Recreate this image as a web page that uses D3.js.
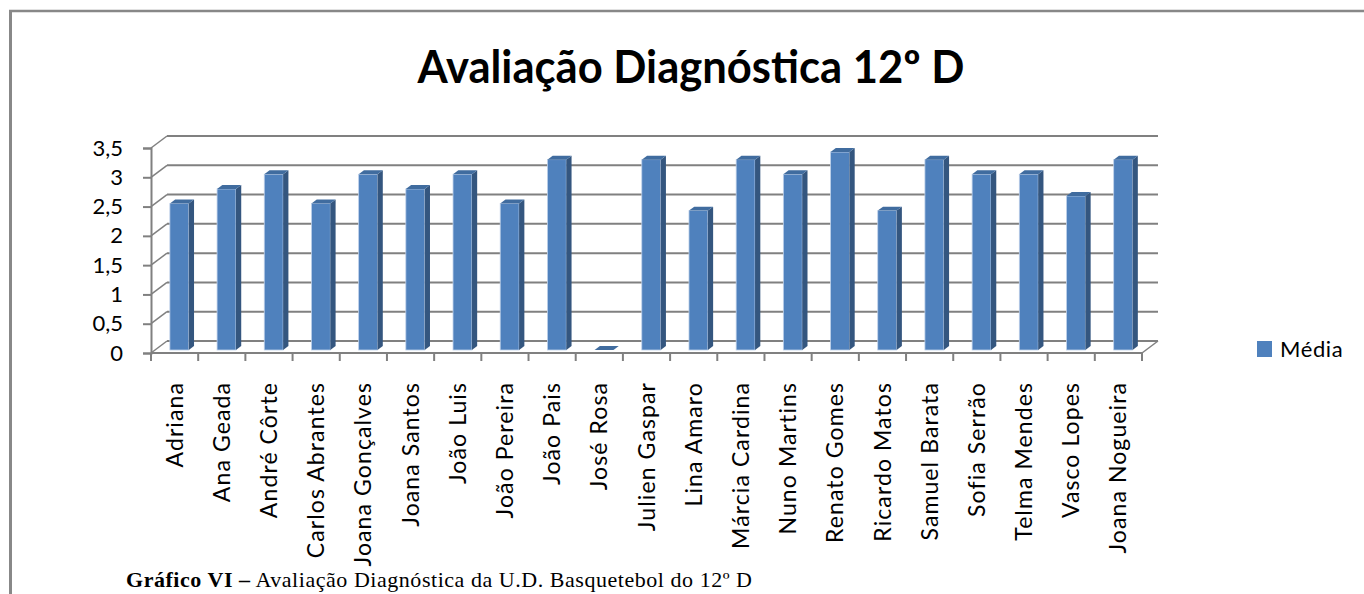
<!DOCTYPE html>
<html>
<head>
<meta charset="utf-8">
<script src="https://cdn.jsdelivr.net/npm/d3@7"></script>
<style>
  html, body { margin: 0; padding: 0; background: #fff; }
  svg { display: block; }
</style>
</head>
<body>
<div id="chart"></div>
<script>
const names = ['Adriana', 'Ana Geada', 'André Côrte', 'Carlos Abrantes', 'Joana Gonçalves',
  'Joana Santos', 'João Luis', 'João Pereira', 'João Pais', 'José Rosa', 'Julien Gaspar',
  'Lina Amaro', 'Márcia Cardina', 'Nuno Martins', 'Renato Gomes', 'Ricardo Matos',
  'Samuel Barata', 'Sofia Serrão', 'Telma Mendes', 'Vasco Lopes', 'Joana Nogueira'];
const media = [2.5, 2.75, 3, 2.5, 3, 2.75, 3, 2.5, 3.25, 0, 3.25,
  2.38, 3.25, 3, 3.38, 2.38, 3.25, 3, 3, 2.63, 3.25];
const yTicks = [0, 0.5, 1, 1.5, 2, 2.5, 3, 3.5];
const seriesName = 'Média';
const titleText = 'Avaliação Diagnóstica 12º D';
const captionBold = 'Gráfico VI –';
const captionRest = ' Avaliação Diagnóstica da U.D. Basquetebol do 12º D';

const chart = (() => {
  const W = 1364, H = 594;
  const depth = {dx: 16, dy: -12};
  const front = {left: 151, right: 1142, bottom: 353, top: 148};
  const font = 'Lato, "Open Sans", sans-serif';
  const col = {front: '#4F81BD', side: '#34567F', top: '#406C9F', grid: '#808080'};

  let svg;

  const appendSVG = () => {
    svg = d3.select('#chart').append('svg')
      .attr('width', W)
      .attr('height', H);
    svg.append('rect').attr('width', W).attr('height', H).attr('fill', '#fff');
    // page frame (top + left edges only)
    svg.append('line').attr('x1', 9).attr('x2', W).attr('y1', 11).attr('y2', 11)
      .attr('stroke', '#888').attr('stroke-width', 2.5);
    svg.append('line').attr('x1', 10.5).attr('x2', 10.5).attr('y1', 10).attr('y2', H)
      .attr('stroke', '#888').attr('stroke-width', 3);
  };

  const draw = () => {
    const x = d3.scaleBand().domain(names).range([front.left, front.right]).padding(0);
    const y = d3.scaleLinear().domain([0, 3.5]).range([front.bottom, front.top]);
    const bw = x.bandwidth();

    // back wall gridlines + diagonals
    const grid = svg.append('g').attr('class', 'grid');
    grid.selectAll('line.h')
      .data(yTicks)
      .enter()
      .append('line')
      .attr('x1', front.left + depth.dx)
      .attr('x2', front.right + depth.dx)
      .attr('y1', d => y(d) + depth.dy)
      .attr('y2', d => y(d) + depth.dy)
      .attr('stroke', col.grid).attr('stroke-width', 2);
    grid.selectAll('line.d')
      .data(yTicks)
      .enter()
      .append('line')
      .attr('x1', front.left)
      .attr('y1', d => y(d))
      .attr('x2', front.left + depth.dx)
      .attr('y2', d => y(d) + depth.dy)
      .attr('stroke', col.grid).attr('stroke-width', 1.5);

    // floor front edge + right diagonal
    svg.append('line')
      .attr('x1', front.left).attr('x2', front.right)
      .attr('y1', front.bottom).attr('y2', front.bottom)
      .attr('stroke', col.grid).attr('stroke-width', 2);
    svg.append('line')
      .attr('x1', front.right).attr('y1', front.bottom)
      .attr('x2', front.right + depth.dx).attr('y2', front.bottom + depth.dy)
      .attr('stroke', col.grid).attr('stroke-width', 1.5);

    // y axis
    const yAxis = svg.append('g')
      .attr('transform', `translate(${front.left},0)`)
      .call(d3.axisLeft(y).tickValues(yTicks).tickSize(8).tickPadding(20)
        .tickFormat(d => String(d).replace('.', ',')));
    yAxis.select('.domain').attr('stroke', col.grid).attr('stroke-width', 2);
    yAxis.selectAll('.tick line').attr('stroke', col.grid).attr('stroke-width', 2);
    yAxis.selectAll('.tick text')
      .attr('font-family', font).attr('font-size', 22).attr('fill', '#000');

    // x axis ticks at band edges
    svg.append('g').selectAll('line')
      .data(d3.range(names.length + 1))
      .enter()
      .append('line')
      .attr('x1', i => front.left + i * bw)
      .attr('x2', i => front.left + i * bw)
      .attr('y1', front.bottom)
      .attr('y2', front.bottom + 8)
      .attr('stroke', col.grid).attr('stroke-width', 2);

    // x labels
    const xAxis = svg.append('g')
      .attr('transform', `translate(0,${front.bottom})`)
      .call(d3.axisBottom(x).tickSize(0));
    xAxis.select('.domain').remove();
    xAxis.selectAll('.tick text')
      .attr('font-family', font).attr('font-size', 23).attr('fill', '#000')
      .attr('text-anchor', 'end')
      .attr('transform', 'rotate(-90)')
      .attr('x', -29).attr('y', 0).attr('dy', '0.35em')
      .attr('letter-spacing', 1.1);

    // 3D bars
    const barW = bw * 0.4;
    const f0 = 0.25, f1 = 0.58;
    const ox0 = depth.dx * f0, oy0 = depth.dy * f0;
    const sx = depth.dx * (f1 - f0), sy = depth.dy * (f1 - f0);
    const bars = svg.append('g').selectAll('g')
      .data(names.map((n, i) => ({name: n, value: media[i]})))
      .enter()
      .append('g');

    const fx = d => x(d.name) + bw * 0.4 + ox0 - 4;
    const base = front.bottom + oy0;
    const topY = d => y(d.value) + oy0;

    bars.filter(d => d.value > 0).append('rect')
      .attr('x', fx)
      .attr('y', topY)
      .attr('width', barW)
      .attr('height', d => base - topY(d))
      .attr('fill', col.front)
      .attr('stroke', '#BFD1EA').attr('stroke-width', 0.8);
    bars.filter(d => d.value > 0).append('path')
      .attr('d', d => {
        const x0 = fx(d) + barW, t = topY(d);
        return `M${x0},${t}L${x0 + sx},${t + sy}L${x0 + sx},${base + sy}L${x0},${base}Z`;
      })
      .attr('fill', col.side);
    bars.append('path')
      .attr('d', d => {
        const x0 = fx(d), t = topY(d);
        return `M${x0},${t}L${x0 + barW},${t}L${x0 + barW + sx},${t + sy}L${x0 + sx},${t + sy}Z`;
      })
      .attr('fill', col.top);

    // title
    svg.append('text')
      .attr('x', 691).attr('y', 83)
      .attr('text-anchor', 'middle')
      .attr('font-family', font).attr('font-weight', 'bold').attr('font-size', 45)
      .attr('fill', '#000')
      .attr('textLength', 547).attr('lengthAdjust', 'spacingAndGlyphs')
      .text(titleText);

    // legend
    svg.append('rect')
      .attr('x', 1257).attr('y', 341).attr('width', 15).attr('height', 16)
      .attr('fill', col.front);
    svg.append('text')
      .attr('x', 1280).attr('y', 357)
      .attr('font-family', font).attr('font-size', 22).attr('fill', '#000')
      .attr('letter-spacing', 0.6)
      .text(seriesName);

    // caption below the chart
    const cap = svg.append('text')
      .attr('x', 126).attr('y', 587)
      .attr('font-family', '"Liberation Serif", "Times New Roman", serif')
      .attr('font-size', 22).attr('fill', '#000')
      .attr('textLength', 626).attr('lengthAdjust', 'spacing');
    cap.append('tspan').attr('font-weight', 'bold').text(captionBold);
    cap.append('tspan').text(captionRest);
  };

  return {
    draw: () => { appendSVG(); draw(); }
  };
})();

chart.draw();
</script>
</body>
</html>
